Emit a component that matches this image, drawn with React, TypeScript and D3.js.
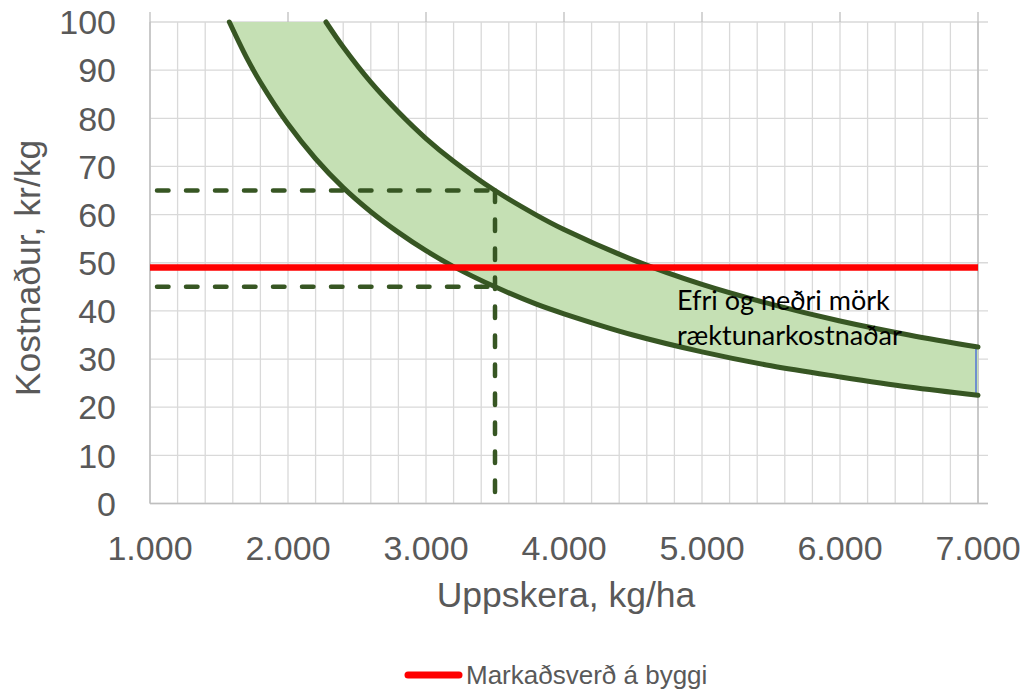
import React from "react";
import * as d3 from "d3";

// Data
const xTicks = [1000, 2000, 3000, 4000, 5000, 6000, 7000];
const xTickLabels = ["1.000", "2.000", "3.000", "4.000", "5.000", "6.000", "7.000"];
const yTicks = [0, 10, 20, 30, 40, 50, 60, 70, 80, 90, 100];

// Lower bound of cultivation cost (kr/kg) vs yield (kg/ha)
const lowerX = [1575, 1700, 1800, 2000, 2200, 2400, 2600, 2800, 3000, 3200, 3500, 3800, 4000, 4500, 5000, 5500, 6000, 6500, 7000];
const lowerY = [100, 92.6, 87.5, 78.8, 71.6, 65.6, 60.6, 56.3, 52.5, 49.2, 45, 41.4, 39.4, 35, 31.5, 28.6, 26.3, 24.2, 22.5];

// Upper bound
const upperX = [2275, 2400, 2600, 2800, 3000, 3200, 3500, 3800, 4000, 4500, 5000, 5500, 6000, 6500, 7000];
const upperY = [100, 94.8, 87.5, 81.3, 75.8, 71.1, 65, 59.9, 56.9, 50.6, 45.5, 41.4, 37.9, 35, 32.5];

const marketPrice = 49;
const marketX = [1000, 7000];
const exampleYield = 3500;
const exampleLow = 45;
const exampleHigh = 65;

const annotationLines = ["Efri og neðri mörk", "ræktunarkostnaðar"];
const legendLabel = "Markaðsverð á byggi";
const xTitle = "Uppskera, kg/ha";
const yTitle = "Kostnaður, kr/kg";

export default function App() {
  const W = 1027, H = 690;
  const left = 150, right = 978, top = 22, bottom = 503.5;
  const x = d3.scaleLinear().domain([1000, 7000]).range([left, right]);
  const y = d3.scaleLinear().domain([0, 100]).range([bottom, top]);

  const minorX = d3.range(1000, 7001, 200);

  const line = d3
    .line<[number, number]>()
    .x((d) => x(d[0]))
    .y((d) => y(d[1]))
    .curve(d3.curveCatmullRom.alpha(0.5));

  const lowerPts: [number, number][] = lowerX.map((v, i) => [v, lowerY[i]]);
  const upperPts: [number, number][] = upperX.map((v, i) => [v, upperY[i]]);
  const lowerPath = line(lowerPts) || "";
  const upperPath = line(upperPts) || "";
  const upperRev = (line(upperPts.slice().reverse()) || "").replace(/^M/, "L");
  const fillPath = lowerPath + upperRev + "Z";

  const grid = "#d9d9d9";
  const axisCol = "#bfbfbf";
  const dark = "#375623";
  const txt = "#595959";
  const font = "'Liberation Sans', Arial, sans-serif";

  return (
    <svg
      width={W}
      height={H}
      style={{ position: "absolute", left: 0, top: 0, background: "#fff" }}
    >
      {/* gridlines */}
      {minorX.map((v) => (
        <line key={"gx" + v} x1={x(v)} x2={x(v)} y1={top} y2={bottom} stroke={grid} strokeWidth={1.3} />
      ))}
      {yTicks.map((v) => (
        <line key={"gy" + v} x1={left} x2={right + 10} y1={y(v)} y2={y(v)} stroke={grid} strokeWidth={1.3} />
      ))}
      {/* top ticks */}
      {xTicks.map((v) => (
        <line key={"tt" + v} x1={x(v)} x2={x(v)} y1={top - 10} y2={top} stroke={axisCol} strokeWidth={1.3} />
      ))}
      {/* axes */}
      <line x1={left} x2={left} y1={top} y2={bottom} stroke={axisCol} strokeWidth={1.5} />
      <line x1={right} x2={right} y1={top} y2={bottom} stroke={axisCol} strokeWidth={1.5} />
      <line x1={left} x2={right + 10} y1={bottom} y2={bottom} stroke={axisCol} strokeWidth={1.5} />

      {/* band */}
      <path d={fillPath} fill="#c5e0b4" stroke="none" />
      <line
        x1={x(7000) - 2}
        x2={x(7000) - 2}
        y1={y(upperY[upperY.length - 1])}
        y2={y(lowerY[lowerY.length - 1])}
        stroke="#6f8fcf"
        strokeWidth={2}
      />
      <path d={lowerPath} fill="none" stroke={dark} strokeWidth={5} strokeLinecap="round" />
      <path d={upperPath} fill="none" stroke={dark} strokeWidth={5} strokeLinecap="round" />

      {/* market price */}
      <line
        x1={x(marketX[0])}
        x2={x(marketX[1])}
        y1={y(marketPrice)}
        y2={y(marketPrice)}
        stroke="#ff0000"
        strokeWidth={6.5}
      />

      {/* example dashed lines */}
      <line
        x1={x(1000) + 7}
        x2={x(exampleYield)}
        y1={y(exampleHigh)}
        y2={y(exampleHigh)}
        stroke={dark}
        strokeWidth={4.5}
        strokeDasharray="11.5,17.5"
        strokeLinecap="round"
      />
      <line
        x1={x(1000) + 7}
        x2={x(exampleYield)}
        y1={y(exampleLow)}
        y2={y(exampleLow)}
        stroke={dark}
        strokeWidth={4.5}
        strokeDasharray="11.5,17.5"
        strokeLinecap="round"
      />
      <line
        x1={x(exampleYield)}
        x2={x(exampleYield)}
        y1={y(exampleHigh)}
        y2={y(0) + 2}
        stroke={dark}
        strokeWidth={4.5}
        strokeDasharray="11.5,17.5"
        strokeLinecap="round"
      />

      {/* annotation */}
      {annotationLines.map((t, i) => (
        <text key={t} x={677} y={310 + i * 35} fontFamily="Lato, 'Open Sans', sans-serif" fontSize={27} fill="#000">
          {t}
        </text>
      ))}

      {/* y tick labels */}
      {yTicks.map((v) => (
        <text
          key={"yl" + v}
          x={116}
          y={y(v)}
          dy="0.36em"
          textAnchor="end"
          fontFamily={font}
          fontSize={34}
          fill={txt}
        >
          {v}
        </text>
      ))}
      {/* x tick labels */}
      {xTicks.map((v, i) => (
        <text
          key={"xl" + v}
          x={x(v)}
          y={560}
          textAnchor="middle"
          fontFamily={font}
          fontSize={34}
          fill={txt}
        >
          {xTickLabels[i]}
        </text>
      ))}

      {/* axis titles */}
      <text x={(left + right) / 2 + 2} y={607} textAnchor="middle" fontFamily={font} fontSize={35.5} fill={txt}>
        {xTitle}
      </text>
      <text
        transform={`translate(40, 268) rotate(-90)`}
        textAnchor="middle"
        fontFamily={font}
        fontSize={35.5}
        fill={txt}
      >
        {yTitle}
      </text>

      {/* legend */}
      <line x1={408} x2={459} y1={675} y2={675} stroke="#ff0000" strokeWidth={7} strokeLinecap="round" />
      <text x={466} y={684} fontFamily={font} fontSize={26} fill={txt}>
        {legendLabel}
      </text>
    </svg>
  );
}
